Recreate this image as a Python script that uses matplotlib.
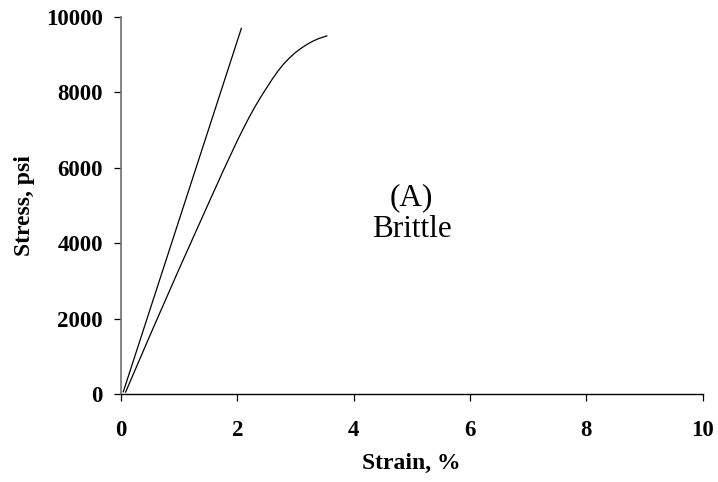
import matplotlib as mpl
import matplotlib.pyplot as plt

mpl.use('Agg')

# stress-strain data, strain in %, stress in psi
strain_a = [0.04, 2.07]
stress_a = [60, 9700]

strain_b = [0.08, 0.5, 1.0, 1.5, 1.76, 2.0, 2.1, 2.2, 2.3, 2.42, 2.6, 2.7,
            2.8, 2.9, 3.0, 3.1, 3.2, 3.3, 3.4, 3.54]
stress_b = [50, 1560, 3320, 5040, 5930, 6720, 7030, 7330, 7610, 7920, 8350, 8570,
            8760, 8920, 9060, 9175, 9275, 9360, 9430, 9500]

xticks = [0, 2, 4, 6, 8, 10]
yticks = [0, 2000, 4000, 6000, 8000, 10000]

serif = ['Liberation Serif', 'DejaVu Serif']

fig = plt.figure(figsize=(7.18, 4.82), dpi=100)
ax = fig.add_axes([0.1685, 0.1826, 0.81, 0.782])

ax.plot(strain_a, stress_a, color='black', lw=0.9)
ax.plot(strain_b, stress_b, color='black', lw=0.9, solid_joinstyle='round')

ax.set_xlim(0, 10)
ax.set_ylim(0, 10000)
ax.set_xticks(xticks)
ax.set_yticks(yticks)

for side in ['top', 'right']:
    ax.spines[side].set_visible(False)
ax.spines['left'].set_color('#707070')
ax.spines['left'].set_linewidth(1.2)
ax.spines['bottom'].set_color('black')
ax.spines['bottom'].set_linewidth(1.0)

ax.tick_params(axis='x', direction='out', length=5, width=0.9, pad=14, colors='black')
ax.tick_params(axis='y', direction='out', length=5, width=0.9, pad=8, colors='black')
for lab in ax.get_xticklabels() + ax.get_yticklabels():
    lab.set_family(serif)
    lab.set_fontweight('bold')
    lab.set_fontsize(16.5)

ax.set_xlabel('Strain, %', family=serif, fontweight='bold', fontsize=17, labelpad=8)
ax.set_ylabel('Stress, psi', family=serif, fontweight='bold', fontsize=17, labelpad=8)

ax.text(5.0, 4780, '(A)\nBrittle', family=serif, fontsize=22.5,
        ha='center', va='center', linespacing=1.12)

fig.savefig('out.png', dpi=100)
